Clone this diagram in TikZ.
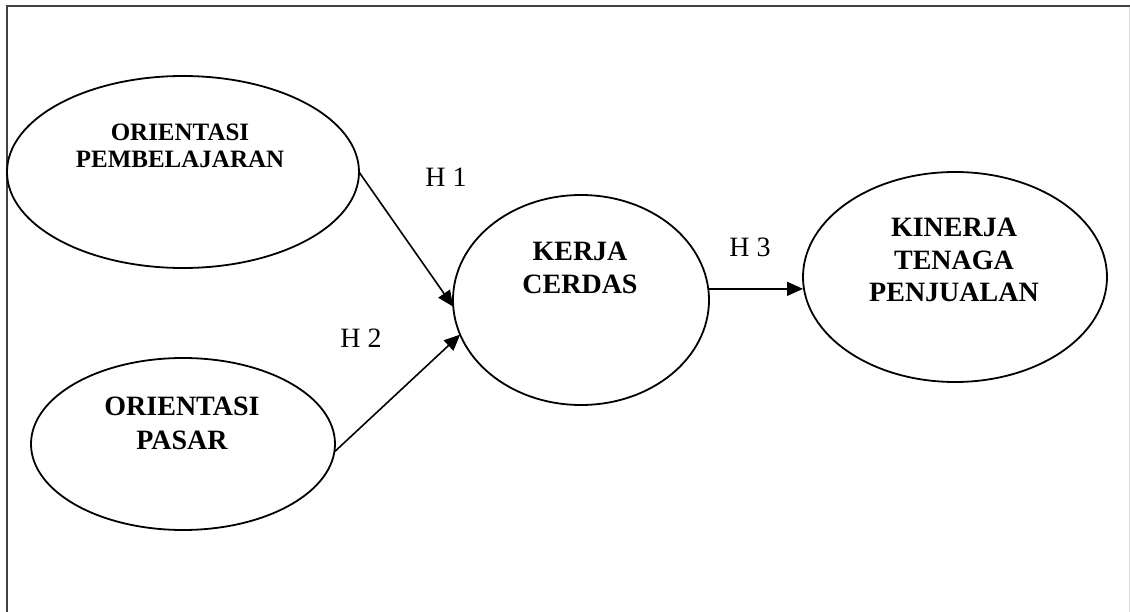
\documentclass[tikz,border=0pt]{standalone}
\usepackage{fontspec}
\setmainfont{Liberation Serif}
\usetikzlibrary{shapes.geometric,arrows.meta}

\definecolor{framegray}{RGB}{64,64,64}
\definecolor{edgegray}{RGB}{215,215,215}

\tikzset{
  construct/.style={draw=black, line width=1.8pt, ellipse, inner sep=0pt, outer sep=0pt},
  title/.style={align=center, inner sep=0pt, font=\bfseries\fontsize{28}{33}\selectfont},
  hyp/.style={inner sep=0pt, font=\fontsize{28}{33}\selectfont},
  link/.style={line width=1.6pt, -{Triangle[length=16pt,width=14pt]}},
}

\begin{document}
\begin{tikzpicture}[x=1pt, y=-1pt]
  \useasboundingbox (0,0) rectangle (1130,612);
  \fill[white] (0,0) rectangle (1130,612);

  % outer frame
  \draw[framegray, line width=2pt] (7,612) -- (7,6.5) -- (1130,6.5);
  \draw[edgegray, line width=1pt] (1129.5,7) -- (1129.5,612);

  % constructs
  \node[construct, minimum width=352pt, minimum height=192pt] (e1) at (183,172) {};
  \node[construct, minimum width=304pt, minimum height=172pt] (e2) at (183,444) {};
  \node[construct, minimum width=256pt, minimum height=210pt] (e3) at (581,300) {};
  \node[construct, minimum width=304pt, minimum height=210pt] (e4) at (955,277) {};

  \node[title, font=\bfseries\fontsize{25}{27}\selectfont] (t1) at (180,145.5) {ORIENTASI\\PEMBELAJARAN};
  \node[title, font=\bfseries\fontsize{28}{34}\selectfont] (t2) at (182,423.5) {ORIENTASI\\PASAR};
  \node[title, font=\bfseries\fontsize{28}{33}\selectfont] (t3) at (580,268) {KERJA\\CERDAS};
  \node[title, font=\bfseries\fontsize{28}{32.5}\selectfont] (t4) at (954,260) {KINERJA\\TENAGA\\PENJUALAN};

  % hypotheses
  \draw[link] (e1.east) -- (e3.183);
  \draw[link] (e2.-3) -- (e3.196);
  \draw[link] (e3.5) -- (e3.5 -| e4.west);

  \node[hyp] (h1) at (446,177) {H 1};
  \node[hyp] (h2) at (361,338) {H 2};
  \node[hyp] (h3) at (750,247) {H 3};
\end{tikzpicture}
\end{document}
